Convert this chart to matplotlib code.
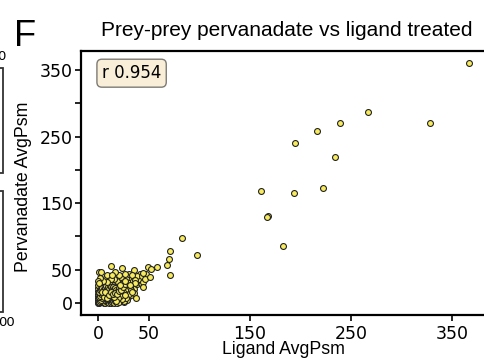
import matplotlib
matplotlib.use("Agg")
import matplotlib.pyplot as plt
from matplotlib.patches import Rectangle

plt.rcParams["font.family"] = ["DejaVu Sans"]

# ---- data ----
outlier_x = [366.5, 267.1, 238.8, 328.2, 216.6, 194.9, 234.5, 160.6, 193.3, 222.3,
             167.8, 166.5, 182.4, 82.4, 97.2, 71.1, 70.1, 67.5, 70.5]
outlier_y = [360.1, 287.3, 269.8, 269.8, 258.7, 240.2, 218.7, 167.6, 165.0, 172.1,
             130.9, 128.9, 85.8, 97.8, 71.8, 77.4, 65.8, 56.8, 41.7]

mid_x = [0.5, 2.8, 12.1, 8.1, 13.4, 23.3, 25.9, 35.1, 32.9, 42.8, 43.8, 49.0, 51.7,
         58.2, 46.5, 36.6, 44.4, 36.0, 51.0, 26.0, 31.0, 21.0, 37.0, 26.0]
mid_y = [45.8, 46.7, 55.7, 41.7, 41.7, 52.7, 42.8, 49.2, 41.7, 40.2, 45.2, 54.3, 51.2,
         53.8, 35.0, 34.0, 23.2, 30.0, 39.0, 33.0, 26.0, 26.0, 6.7, 11.0]

cluster_x = [0, 0, 1, 0, 1, 2, 0, 1, 2, 3, 4, 0, 1, 2, 3, 4, 0, 1, 2, 3, 4, 5,
             0, 1, 2, 3, 4, 5, 0, 1, 2, 3, 4, 5, 0, 1, 2, 3, 4, 5, 0, 2, 3, 4, 5,
             6, 7, 8, 6, 7, 8, 9, 10, 6, 7, 8, 9, 10, 11, 12, 6, 7, 8, 9, 10, 11, 12, 13,
             6, 8, 9, 10, 11, 12, 13, 14, 15, 7, 9, 10, 11, 12, 13, 14, 15,
             8, 10, 12, 13, 14, 15, 11, 14,
             16, 17, 18, 16, 17, 18, 19, 20, 16, 18, 19, 20, 21, 22, 17, 19, 21, 22, 23, 24,
             20, 22, 23, 24, 25, 26, 24, 26, 27, 28, 29, 28, 29, 30, 31, 32, 33, 34, 35,
             38, 40, 42, 39, 33, 30, 27, 18, 15, 22, 35, 28, 20, 25, 12,
             0.5, 1.5, 2.5, 3.5, 0.5, 1.5, 2.5, 3.5, 0.5, 1.5, 2.5, 3.5, 4.5, 5.5, 6.5,
             7.5, 8.5, 9.5, 10.5, 11.5, 12.5, 13.5, 14.5, 15.5, 16.5, 17.5, 18.5, 19.5,
             20.5, 21.5, 22.5, 23.5, 24.5, 25.5, 26.5, 27.5, 29.5, 30.5, 31.5, 32.5, 33.5,
             26.5, 27.5, 23, 21, 19, 17, 15, 13, 11, 9, 7, 5, 3, 6.5, 8.5, 10.5, 12.5,
             14.5, 16.5, 18.5, 20.5, 22.5, 24.5, 26.5, 30, 34, 37, 40, 44, 47, 41, 38,
             30, 20, 16, 6, 8, 4, 2, 0, 1]
cluster_y = [0, 1, 0, 2, 3, 1, 4, 5, 6, 2, 1, 7, 8, 9, 4, 5, 10, 12, 11, 7, 8, 0,
             13, 15, 14, 10, 12, 3, 18, 20, 17, 13, 16, 6, 22, 25, 23, 19, 21, 10, 27, 28, 24, 21, 14,
             0, 2, 1, 4, 7, 5, 3, 0, 9, 11, 9, 7, 4, 2, 0, 14, 16, 13, 12, 9, 6, 4, 1,
             19, 18, 16, 14, 11, 8, 6, 3, 0, 23, 21, 19, 17, 13, 10, 8, 5,
             27, 25, 22, 18, 15, 11, 30, 26,
             2, 6, 0, 9, 13, 10, 4, 8, 17, 20, 15, 12, 5, 2, 24, 22, 18, 14, 9, 4,
             27, 24, 20, 16, 11, 6, 29, 25, 21, 15, 9, 31, 27, 22, 17, 12, 30, 25, 20,
             28, 32, 29, 38, 35, 36, 37, 33, 36, 38, 14, 4, 1, 1, 35,
             0.5, 2.5, 4.5, 6.5, 8.5, 10.5, 12.5, 14.5, 16, 18.5, 20.5, 22.5, 18, 20, 22,
             25, 20, 24, 21, 26, 24, 21, 23, 20, 22, 19, 16, 18,
             22, 15, 11, 13, 8, 3, 14, 18, 20, 13, 24, 19, 16,
             9, 7, 6, 10, 7, 3, 8, 14, 15, 10, 13, 8, 16, 16.5, 6.5, 11.5, 16.5,
             12.5, 14.5, 12.5, 17.5, 19.5, 23, 28, 29, 33, 31, 36, 31, 43, 44, 40,
             44, 42, 46, 36, 31, 33, 37, 32, 30]

x_ticks = [0, 50, 150, 250, 350]
x_ticklabels = ["0", "50", "150", "250", "350"]
y_ticks = [0, 50, 100, 150, 200, 250, 300, 350]
y_ticklabels = ["0", "50", "", "150", "", "250", "", "350"]

r_value = 0.954
title = "Prey-prey pervanadate vs ligand treated"
xlabel = "Ligand AvgPsm"
ylabel = "Pervanadate AvgPsm"

# ---- figure ----
W, H = 484, 360
fig = plt.figure(figsize=(W / 100, H / 100), dpi=100)

def fx(px):
    return px / W

def fy(py):
    return 1 - py / H

ax_left, ax_right, ax_top, ax_bottom = 81, 499, 51, 315
ax = fig.add_axes([fx(ax_left), fy(ax_bottom), (ax_right - ax_left) / W, (ax_bottom - ax_top) / H])

xs = cluster_x + mid_x + outlier_x
ys = cluster_y + mid_y + outlier_y
ax.scatter(xs, ys, s=18, facecolor="#f8ec5c", edgecolor="#222222", linewidth=0.8, zorder=3)

ax.set_xlim(-17.3, 396.5)
ax.set_ylim(-18.4, 378.6)
ax.set_xticks(x_ticks)
ax.set_xticklabels(x_ticklabels)
ax.set_yticks(y_ticks)
ax.set_yticklabels(y_ticklabels)
ax.tick_params(axis="both", length=4, width=1.2, color="black", labelsize=12.5)
ax.tick_params(axis="x", pad=3)
ax.tick_params(axis="y", pad=2)
for side in ["left", "bottom", "top"]:
    ax.spines[side].set_linewidth(1.6)
ax.spines["right"].set_visible(False)

ax.text(0.05, 0.95, f"r {r_value:.3f}", transform=ax.transAxes, va="top", ha="left",
        fontsize=12,
        bbox=dict(boxstyle="round", facecolor="wheat", alpha=0.5))

fig.text(fx(286.5), fy(36), title, ha="center", va="baseline", fontsize=15,
         family="Liberation Sans")
fig.text(fx(283.5), fy(350), xlabel, ha="center", va="center", fontsize=12.8,
         family="Liberation Sans")
fig.text(fx(24), fy(187), ylabel, ha="center", va="center", rotation=90, fontsize=12.8,
         family="Liberation Sans")
fig.text(fx(14), fy(46), "F", ha="left", va="baseline", fontsize=26,
         family="Liberation Sans")

# fragments of the neighbouring panel at the left edge
for (top, bot) in [(68.3, 172.7), (190.7, 311.7)]:
    fig.add_artist(Rectangle((fx(-20), fy(bot)), fx(23), (bot - top) / H,
                             transform=fig.transFigure, fill=False,
                             edgecolor="#333333", linewidth=1.3))
fig.text(fx(6), fy(56), "0", ha="right", va="center", fontsize=9.5)
fig.text(fx(15), fy(322), "00", ha="right", va="center", fontsize=9.5)

fig.savefig("out.png", dpi=100)
